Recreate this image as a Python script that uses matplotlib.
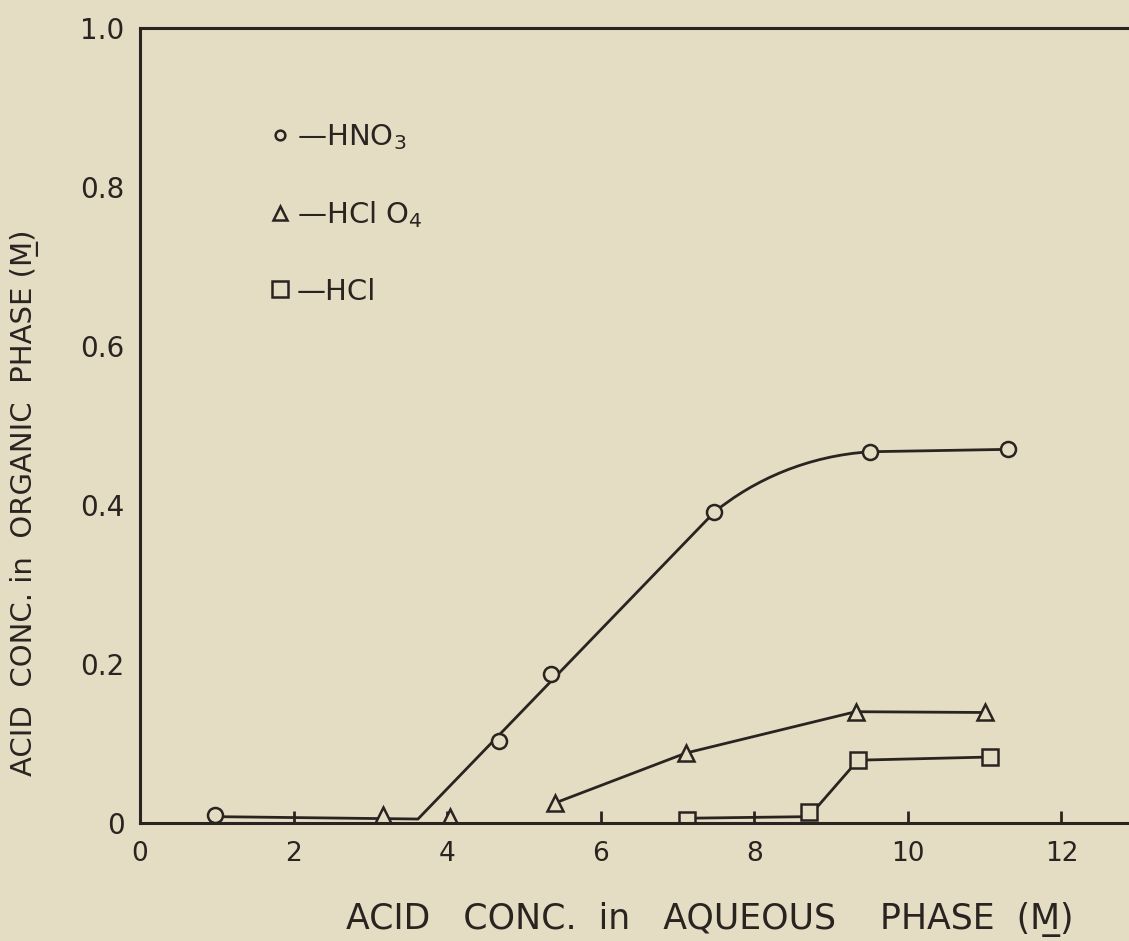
import matplotlib
matplotlib.use("Agg")
import matplotlib.pyplot as plt
from matplotlib.path import Path
from matplotlib.patches import PathPatch
from matplotlib.lines import Line2D

# ---------------- data ----------------
hno3_x = [0.98, 4.67, 5.35, 7.48, 9.51, 11.31]
hno3_y = [0.010, 0.103, 0.188, 0.391, 0.467, 0.470]

hclo4_x = [3.17, 4.04, 5.40, 7.11, 9.32, 11.01]
hclo4_y = [0.010, 0.008, 0.025, 0.088, 0.140, 0.139]

hcl_x = [7.12, 8.71, 9.35, 11.07]
hcl_y = [0.004, 0.014, 0.079, 0.083]

# hand-drawn fit curve for HNO3 (knots / control points)
hno3_fit_x = [0.98, 3.62, 7.48, 8.00, 8.70, 9.51, 11.31]
hno3_fit_y = [0.008, 0.005, 0.391, 0.432, 0.462, 0.467, 0.470]
hno3_fit_codes = [Path.MOVETO, Path.LINETO, Path.LINETO,
                  Path.CURVE4, Path.CURVE4, Path.CURVE4, Path.LINETO]

# connected segments of the other series
hclo4_line_x = [5.40, 7.11, 9.32, 11.01]
hclo4_line_y = [0.025, 0.088, 0.140, 0.139]
hcl_line_x = [7.12, 8.71, 9.35, 11.07]
hcl_line_y = [0.006, 0.008, 0.079, 0.083]

x_ticks = [0, 2, 4, 6, 8, 10, 12]
x_ticklabels = ["0", "2", "4", "6", "8", "10", "12"]
y_ticks = [0, 0.2, 0.4, 0.6, 0.8, 1.0]
y_ticklabels = ["0", "0.2", "0.4", "0.6", "0.8", "1.0"]

legend_labels = ["\u2014HNO$_3$", "\u2014HCl O$_4$", "\u2014HCl"]

# ---------------- style ----------------
BG = "#e5dcc4"
INK = "#2a2421"
plt.rcParams["font.family"] = ["DejaVu Sans"]

fig = plt.figure(figsize=(11.29, 9.41), dpi=100, facecolor=BG)
ax = fig.add_axes([140 / 1129, 118 / 941, 989 / 1129, 795 / 941])
ax.set_facecolor(BG)
ax.set_xlim(0, 12.88)
ax.set_ylim(0, 1.0)

lw = 2.0
mew = 1.8

# fit curve
ax.add_patch(PathPatch(Path(list(zip(hno3_fit_x, hno3_fit_y)), hno3_fit_codes),
                       fill=False, edgecolor=INK, lw=lw, zorder=2))
ax.plot(hclo4_line_x, hclo4_line_y, color=INK, lw=lw, zorder=2)
ax.plot(hcl_line_x, hcl_line_y, color=INK, lw=lw, zorder=2)

# markers
ax.plot(hno3_x, hno3_y, "o", ms=10.8, mfc=BG, mec=INK, mew=mew, ls="none", zorder=2.2)
ax.plot(hclo4_x, hclo4_y, "^", ms=12, mfc=BG, mec=INK, mew=mew, ls="none", zorder=2.2)
ax.plot(hcl_x, hcl_y, "s", ms=11, mfc=BG, mec=INK, mew=mew, ls="none", zorder=2.2)

# spines
for s in ["left", "bottom", "top"]:
    ax.spines[s].set_color(INK)
    ax.spines[s].set_linewidth(2.2)
    ax.spines[s].set_zorder(3)
ax.spines["right"].set_visible(False)

ax.set_xticks(x_ticks)
ax.set_xticklabels(x_ticklabels)
ax.set_yticks(y_ticks)
ax.set_yticklabels(y_ticklabels)
ax.tick_params(axis="x", direction="in", length=9, width=2.0, color=INK,
               labelsize=19, labelcolor=INK, pad=13)
ax.tick_params(axis="y", length=0, labelsize=20, labelcolor=INK, pad=11)

ax.set_xlabel("ACID   CONC.  in   AQUEOUS    PHASE  (M\u0332)", fontsize=25, color=INK)
ax.xaxis.label.set_va("center")
ax.xaxis.set_label_coords(0.576, -0.121)
ax.set_ylabel("ACID  CONC. in  ORGANIC  PHASE (M\u0332)", fontsize=21, color=INK)
ax.yaxis.label.set_va("center")
ax.yaxis.set_label_coords(-0.117, 0.4025)

handles = [
    Line2D([], [], ls="none", marker="o", ms=7, mfc=BG, mec=INK, mew=1.8),
    Line2D([], [], ls="none", marker="^", ms=10, mfc=BG, mec=INK, mew=1.8),
    Line2D([], [], ls="none", marker="s", ms=11, mfc=BG, mec=INK, mew=1.8),
]
leg = ax.legend(handles, legend_labels, loc="upper left",
                bbox_to_anchor=(0.1335, 0.881), frameon=False, fontsize=21,
                handlelength=0.55, handletextpad=0.3, labelspacing=1.62,
                borderpad=0, borderaxespad=0)
for t in leg.get_texts():
    t.set_color(INK)

fig.savefig("out.png", dpi=100, facecolor=BG)
